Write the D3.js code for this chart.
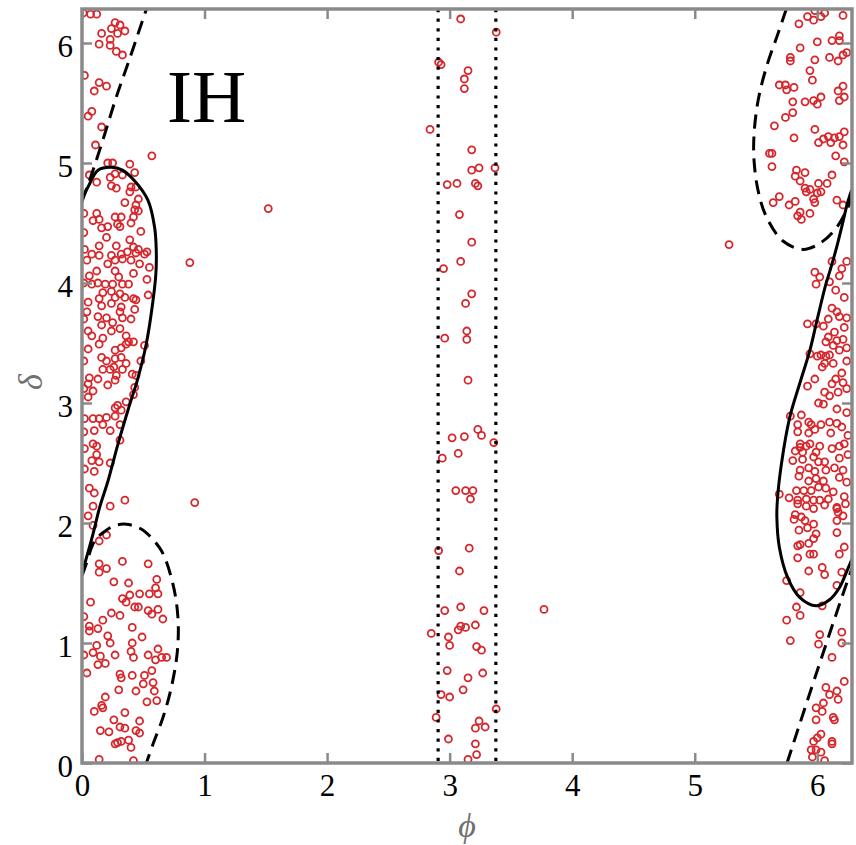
<!DOCTYPE html>
<html>
<head>
<meta charset="utf-8">
<script src="https://cdn.jsdelivr.net/npm/d3@7/dist/d3.min.js"></script>
<style>
  html, body { margin: 0; padding: 0; background: #fff; }
  svg { display: block; }
</style>
</head>
<body>
<svg id="chart" width="856" height="845"></svg>
<script>
// ---- axes ----
const TWO_PI = 2 * Math.PI;
const phiTicks = [0, 1, 2, 3, 4, 5, 6];
const deltaTicks = [0, 1, 2, 3, 4, 5, 6];
const panelLabel = "IH";

// ---- allowed-region boundaries (phi, delta) ----
const solidLeft = [[0,1.58],[0.09,1.91],[0.144,2.13],[0.212,2.35],[0.294,2.66],[0.375,2.94],[0.457,3.21],[0.524,3.49],[0.579,3.85],[0.603,4.08],[0.606,4.27],[0.593,4.46],[0.538,4.69],[0.43,4.85],[0.33,4.94],[0.239,4.965],[0.13,4.94],[0.049,4.80],[0,4.70]];
const solidRight = [[6.283,4.78],[6.25,4.68],[6.20,4.47],[6.156,4.29],[6.10,4.09],[6.07,3.99],[6.00,3.70],[5.94,3.44],[5.856,3.16],[5.775,2.88],[5.707,2.49],[5.675,2.20],[5.67,2.05],[5.69,1.80],[5.76,1.54],[5.856,1.38],[5.99,1.31],[6.10,1.36],[6.18,1.46],[6.25,1.62],[6.283,1.70]];
const dashedUpperLeft = [[0,4.68],[0.09,4.94],[0.185,5.24],[0.28,5.55],[0.389,5.87],[0.498,6.20],[0.526,6.283]];
const dashedLowerLeft = [[0,1.56],[0.035,1.66],[0.103,1.85],[0.185,1.93],[0.27,1.98],[0.361,1.99],[0.44,1.97],[0.511,1.93],[0.647,1.77],[0.742,1.49],[0.783,1.21],[0.778,0.93],[0.729,0.63],[0.661,0.38],[0.579,0.156],[0.525,0]];
const dashedUpperRight = [[5.747,6.283],[5.68,6.08],[5.585,5.80],[5.517,5.52],[5.484,5.24],[5.484,5.02],[5.517,4.77],[5.585,4.55],[5.72,4.35],[5.883,4.28],[6.02,4.33],[6.156,4.46],[6.25,4.63],[6.283,4.72]];
const dashedLowerRight = [[5.753,0],[5.99,0.74],[6.237,1.49],[6.283,1.62]];
const dottedPhi = [2.906, 3.377];

// ---- sampled points (phi, delta) ----
const pointsLeft = [
[0.07,6.24],[0.12,6.24],[0.27,6.17],[0.31,6.15],[0.24,6.12],[0.35,6.10],[0.29,6.08],[0.16,6.08],[0.23,6.03],[0.14,5.99],[0.23,5.98],[0.28,5.93],[0.33,5.90],[0.02,5.73],[0.14,5.67],[0.20,5.64],[0.10,5.60],[0.08,5.43],[0.05,5.39],[0.16,5.30],[0.11,5.15],[0.57,5.06],[0.21,5.00],[0.25,5.00],[0.39,4.99],[0.06,4.90],[0.43,4.92],[0.12,4.84],[0.23,4.88],[0.27,4.91],[0.33,4.90],[0.24,4.81],[0.28,4.79],[0.40,4.80],[0.44,4.80],[0.39,4.76],[0.46,4.70],[0.35,4.67],[0.44,4.65],[0.43,4.61],[0.46,4.60],[0.12,4.58],[0.09,4.52],[0.14,4.53],[0.27,4.55],[0.32,4.55],[0.42,4.55],[0.29,4.49],[0.31,4.47],[0.16,4.46],[0.21,4.47],[0.40,4.50],[0.48,4.43],[0.20,4.38],[0.39,4.36],[0.14,4.31],[0.28,4.31],[0.42,4.30],[0.46,4.28],[0.53,4.26],[0.02,4.28],
[0.08,4.24],[0.14,4.23],[0.24,4.23],[0.32,4.24],[0.37,4.26],[0.44,4.25],[0.51,4.24],[0.04,4.19],[0.21,4.16],[0.27,4.19],[0.33,4.20],[0.40,4.19],[0.47,4.16],[0.55,4.13],[0.12,4.10],[0.27,4.10],[0.42,4.08],[0.06,4.06],[0.30,4.05],[0.53,4.03],[0.08,3.99],[0.13,4.00],[0.19,3.99],[0.25,3.99],[0.33,3.99],[0.38,3.99],[0.17,3.92],[0.24,3.93],[0.31,3.91],[0.54,3.90],[0.05,3.84],[0.14,3.87],[0.27,3.88],[0.35,3.88],[0.42,3.87],[0.44,3.86],[0.16,3.81],[0.24,3.83],[0.32,3.80],[0.43,3.78],[0.04,3.76],[0.13,3.72],[0.31,3.76],[0.20,3.71],[0.25,3.67],[0.33,3.71],[0.40,3.70],[0.16,3.65],[0.24,3.60],[0.31,3.62],[0.05,3.60],[0.08,3.56],[0.17,3.54],[0.36,3.56],[0.14,3.49],[0.32,3.46],[0.36,3.49],[0.38,3.51],[0.42,3.51],[0.51,3.48],[0.05,3.45],[0.27,3.44],[0.16,3.38],[0.20,3.35],[0.27,3.37],[0.32,3.38],[0.48,3.35],[0.23,3.28],[0.17,3.28],[0.26,3.30],[0.33,3.28],[0.36,3.33],[0.41,3.24],[0.44,3.23],[0.06,3.21],[0.13,3.20],[0.28,3.23],[0.27,3.19],[0.21,3.15],[0.43,3.13],[0.05,3.16],[0.09,3.10],[0.42,3.07],[0.05,3.05],[0.36,3.01],[0.27,2.96],[0.29,2.98],[0.32,2.94],[0.27,2.89],[0.02,2.87],[0.09,2.87],[0.14,2.87],[0.20,2.88],[0.17,2.82],[0.31,2.82],[0.10,2.77],[0.23,2.77],[0.31,2.69],[0.09,2.66],[0.12,2.64],[0.02,2.62],[0.12,2.57],[0.08,2.52],[0.14,2.51],[0.23,2.50],[0.10,2.43],[0.06,2.29],[0.10,2.25],[0.35,2.19],[0.09,2.14],[0.23,2.14],
[0.05,2.06],[0.09,1.98],[0.14,1.85],[0.20,1.90],[0.14,1.66],[0.14,1.59],[0.20,1.62],[0.33,1.68],[0.54,1.66],[0.26,1.51],[0.38,1.50],[0.61,1.53],[0.60,1.46],[0.07,1.34],[0.33,1.37],[0.39,1.40],[0.47,1.41],[0.55,1.41],[0.62,1.41],[0.36,1.34],[0.43,1.30],[0.46,1.30],[0.24,1.25],[0.31,1.23],[0.54,1.27],[0.57,1.24],[0.62,1.28],[0.66,1.20],[0.17,1.19],[0.06,1.14],[0.13,1.12],[0.06,1.10],[0.41,1.13],[0.21,1.06],[0.49,1.05],[0.23,1.00],[0.41,1.00],[0.12,0.98],[0.09,0.92],[0.40,0.93],[0.15,0.89],[0.27,0.90],[0.54,0.90],[0.42,0.88],[0.62,0.95],[0.65,0.88],[0.69,0.88],[0.60,0.86],[0.19,0.83],[0.13,0.82],[0.04,0.75],[0.31,0.74],[0.32,0.71],[0.41,0.73],[0.51,0.73],[0.57,0.77],[0.50,0.66],[0.58,0.67],[0.59,0.60],[0.30,0.61],[0.44,0.60],[0.19,0.55],[0.53,0.51],[0.61,0.52],[0.16,0.48],[0.10,0.43],[0.17,0.46],[0.35,0.42],[0.26,0.36],[0.47,0.35],[0.31,0.30],[0.35,0.29],[0.44,0.27],[0.47,0.25],[0.15,0.27],[0.22,0.26],[0.32,0.18],[0.38,0.19],[0.27,0.16],[0.29,0.17],[0.40,0.13],[0.14,0.03],[0.42,0.02],
[0.01,6.25],[0.015,4.58],[0.015,4.42],[0.015,4.00],[0.015,3.70],[0.015,3.35],[0.015,3.12],[0.015,2.76],[0.02,2.45],[0.015,1.22],[0.015,0.90]
];
const pointsMiddle = [
[3.09,6.20],[3.38,6.09],[2.91,5.84],[2.93,5.82],[3.15,5.77],[3.12,5.70],[3.12,5.62],[2.84,5.28],[3.18,5.11],[3.24,4.96],[3.18,4.94],[3.37,4.96],[2.98,4.82],[3.06,4.83],[3.21,4.83],[3.23,4.81],[3.08,4.57],[3.18,4.34],[3.09,4.18],[2.95,4.12],[3.18,3.91],[3.13,3.83],[3.14,3.60],[2.96,3.54],[3.14,3.53],[3.15,3.19],
[3.23,2.78],[3.26,2.73],[3.02,2.71],[3.12,2.72],[3.36,2.67],[3.07,2.58],[2.94,2.54],[3.05,2.27],[3.13,2.27],[3.19,2.27],[3.17,2.20],[2.91,1.77],[3.16,1.79],[3.08,1.60],[2.96,1.27],[3.09,1.30],[3.28,1.27],[2.85,1.08],[3.07,1.11],[3.09,1.14],[3.13,1.13],[3.21,1.15],[2.99,1.05],[3.00,0.98],[3.22,0.97],[3.26,0.94],[2.98,0.77],[3.15,0.71],[3.27,0.75],[3.11,0.61],[2.93,0.57],[3.00,0.55],[2.89,0.38],[3.38,0.45],[3.24,0.35],[3.21,0.29],[3.29,0.30],[2.99,0.20],[3.21,0.16],[3.22,0.07],[3.15,0.03]
];
const pointsIsolated = [[0.88,4.17],[0.92,2.17],[1.52,4.62],[3.77,1.28],[5.28,4.32]];
const pointsRight = [
[5.98,6.27],[6.06,6.25],[6.21,6.23],[5.92,6.22],[5.97,6.19],[6.03,6.22],[5.85,6.16],[6.18,6.06],[6.12,6.02],[6.18,6.02],[5.86,5.96],[6.00,6.01],[6.24,5.92],[5.78,5.88],[5.78,5.85],[5.98,5.86],[6.10,5.88],[6.17,5.85],[6.21,5.90],[5.94,5.77],[5.96,5.69],[5.69,5.65],[5.74,5.65],[5.75,5.61],[5.81,5.63],[6.21,5.64],[6.17,5.60],[5.80,5.51],[5.90,5.51],[5.97,5.52],[6.00,5.49],[6.03,5.55],[6.18,5.52],[6.22,5.55],[5.74,5.38],[5.80,5.42],[5.65,5.31],[5.81,5.21],[5.98,5.28],[6.01,5.17],[6.05,5.20],[6.09,5.22],[6.11,5.17],[6.14,5.21],[6.18,5.22],[6.22,5.26],[6.21,5.15],[5.61,5.08],[5.63,5.08],[5.63,4.97],[6.15,5.06],[6.22,5.01],[5.83,4.94],[5.82,4.89],[5.90,4.92],[5.86,4.85],[6.12,4.90],[6.01,4.83],[6.08,4.83],[5.90,4.79],[5.91,4.76],[5.94,4.78],[6.03,4.76],[6.00,4.75],[5.97,4.70],[5.98,4.67],[5.64,4.67],[5.69,4.72],[5.77,4.65],[5.82,4.68],[6.16,4.69],[6.21,4.65],[5.86,4.59],[5.84,4.56],[5.87,4.53],[5.94,4.58],
[6.12,4.18],[6.24,4.18],[6.20,4.12],[5.98,4.09],[6.02,4.05],[6.18,4.06],[5.99,3.99],[6.10,4.01],[6.15,3.94],[6.22,3.88],[6.12,3.79],[6.09,3.70],[6.16,3.76],[6.18,3.72],[6.24,3.71],[5.92,3.66],[5.99,3.66],[6.05,3.64],[6.22,3.63],[6.14,3.59],[6.09,3.55],[6.07,3.51],[6.16,3.52],[6.21,3.53],[6.13,3.48],[6.18,3.44],[6.24,3.46],[5.94,3.41],[6.00,3.39],[6.03,3.40],[6.07,3.39],[6.10,3.40],[6.06,3.33],[6.13,3.33],[6.24,3.35],[6.04,3.30],[6.20,3.25],[5.98,3.20],[5.92,3.14],[6.15,3.20],[6.12,3.16],[6.21,3.17],[6.06,3.09],[6.10,3.06],[6.17,3.09],[6.24,3.12],[6.01,3.00],[6.05,2.99],[6.16,2.95],[6.24,2.92],[5.78,2.89],[5.87,2.90],[5.84,2.82],[5.93,2.84],[5.95,2.82],[5.98,2.78],[6.03,2.82],[6.10,2.84],[6.16,2.83],[6.20,2.80],[5.84,2.76],[5.93,2.75],[6.11,2.75],[6.25,2.73],[5.86,2.66],[5.91,2.64],[5.94,2.66],[6.02,2.64],[5.82,2.60],[5.86,2.63],[5.88,2.59],[5.99,2.59],[6.12,2.62],[6.18,2.64],[6.22,2.66],[5.80,2.52],[5.88,2.53],[5.97,2.55],[6.01,2.51],[6.06,2.51],[6.18,2.54],[6.25,2.57],[5.86,2.44],[5.93,2.46],[5.98,2.43],[6.07,2.44],[6.14,2.46],[6.21,2.44],[5.85,2.39],[5.93,2.35],[5.99,2.37],[6.05,2.35],[6.18,2.38],[6.24,2.34],[5.83,2.27],[5.89,2.27],[5.95,2.27],[6.01,2.30],[6.07,2.29],[6.13,2.26],[6.22,2.22],[5.69,2.24],[5.77,2.21],[5.84,2.19],[5.91,2.20],[5.97,2.19],[6.02,2.19],[6.09,2.20],[6.16,2.13],
[5.84,2.16],[5.91,2.14],[5.97,2.12],[6.06,2.15],[6.16,2.12],[6.23,2.16],[5.82,2.07],[5.81,2.03],[5.87,2.05],[5.90,2.02],[6.17,2.09],[6.16,2.02],[6.21,2.06],[5.85,1.94],[5.92,1.96],[5.97,1.99],[5.99,1.91],[5.97,1.87],[6.16,1.92],[5.84,1.81],[5.86,1.82],[5.93,1.83],[5.94,1.74],[5.97,1.74],[5.84,1.71],[6.18,1.74],[6.22,1.80],[5.93,1.60],[6.04,1.63],[6.06,1.57],[6.20,1.59],[6.16,1.48],[5.75,1.52],[5.86,1.42],[6.04,1.31],[5.83,1.30],[5.86,1.23],[5.75,1.19],[5.78,1.02],[6.02,1.07],[6.01,0.99],[6.20,1.09],[6.20,1.00],[6.12,0.88],[6.22,0.68],[6.07,0.63],[6.10,0.57],[6.16,0.60],[6.17,0.53],[6.05,0.50],[5.99,0.46],[6.04,0.43],[6.13,0.38],[5.99,0.36],[6.14,0.36],[5.97,0.18],[6.03,0.24],[6.00,0.21],[6.12,0.16],[6.12,0.18],[5.95,0.11],[5.99,0.11],[6.03,0.09],[5.96,0.05],[6.06,0.02]
];

// ---- layout ----
const svg = d3.select("#chart");
const plot = { left: 82, right: 852, top: 9, bottom: 763 };
const x = d3.scaleLinear().domain([0, TWO_PI]).range([plot.left, plot.right]);
const y = d3.scaleLinear().domain([0, TWO_PI]).range([plot.bottom, plot.top]);

const frameColor = "#8a8a8a";
const serif = "'Liberation Serif', 'DejaVu Serif', serif";

svg.append("defs").append("clipPath").attr("id", "plot-clip")
  .append("rect")
  .attr("x", plot.left).attr("y", plot.top)
  .attr("width", plot.right - plot.left).attr("height", plot.bottom - plot.top);

const inner = svg.append("g").attr("clip-path", "url(#plot-clip)");

// sampled points: open red circles
const allPoints = pointsLeft.concat(pointsMiddle, pointsIsolated, pointsRight);
inner.append("g").selectAll("circle").data(allPoints).join("circle")
  .attr("cx", d => x(d[0]))
  .attr("cy", d => y(d[1]))
  .attr("r", 3.5)
  .attr("fill", "none")
  .attr("stroke", "#d7262b")
  .attr("stroke-width", 1.8);

// boundaries
const line = d3.line().x(d => x(d[0])).y(d => y(d[1])).curve(d3.curveCatmullRom.alpha(0.5));

[solidLeft, solidRight].forEach(seg => {
  inner.append("path").attr("d", line(seg))
    .attr("fill", "none").attr("stroke", "#000").attr("stroke-width", 3);
});
[dashedUpperLeft, dashedLowerLeft, dashedUpperRight, dashedLowerRight].forEach(seg => {
  inner.append("path").attr("d", line(seg))
    .attr("fill", "none").attr("stroke", "#000").attr("stroke-width", 3)
    .attr("stroke-dasharray", "14,8");
});
inner.append("g").selectAll("line").data(dottedPhi).join("line")
  .attr("x1", d => x(d)).attr("x2", d => x(d))
  .attr("y1", y(TWO_PI)).attr("y2", y(0))
  .attr("stroke", "#000").attr("stroke-width", 3.2)
  .attr("stroke-dasharray", "3.2,6.4");

// axes with inward ticks on all four sides
function styleAxis(g) {
  g.attr("font-family", serif).attr("font-size", 31);
  g.select(".domain").remove();
  g.selectAll(".tick line").attr("stroke", frameColor).attr("stroke-width", 2.5);
  g.selectAll(".tick text").attr("fill", "#000")
    .attr("font-family", serif)
    .style("font-family", serif).style("font-size", "31px");
}

svg.append("g").attr("transform", `translate(0,${plot.bottom})`)
  .call(d3.axisBottom(x).tickValues(phiTicks).tickFormat(d3.format("d"))
    .tickSizeInner(-10).tickSizeOuter(0).tickPadding(11))
  .call(styleAxis)
  .call(g => g.selectAll(".tick text").attr("dy", "0.71em"));

svg.append("g").attr("transform", `translate(0,${plot.top})`)
  .call(d3.axisTop(x).tickValues(phiTicks).tickFormat("")
    .tickSizeInner(-10).tickSizeOuter(0))
  .call(styleAxis);

svg.append("g").attr("transform", `translate(${plot.left},0)`)
  .call(d3.axisLeft(y).tickValues(deltaTicks).tickFormat(d3.format("d"))
    .tickSizeInner(-10).tickSizeOuter(0).tickPadding(9))
  .call(styleAxis)
  .call(g => g.selectAll(".tick text").attr("dy", "0.42em"));

svg.append("g").attr("transform", `translate(${plot.right},0)`)
  .call(d3.axisRight(y).tickValues(deltaTicks).tickFormat("")
    .tickSizeInner(-10).tickSizeOuter(0))
  .call(styleAxis);

// frame
svg.append("rect")
  .attr("x", plot.left).attr("y", plot.top)
  .attr("width", plot.right - plot.left).attr("height", plot.bottom - plot.top)
  .attr("fill", "none").attr("stroke", frameColor).attr("stroke-width", 3.5);

// axis titles
svg.append("text")
  .attr("x", (plot.left + plot.right) / 2).attr("y", 837)
  .attr("text-anchor", "middle")
  .attr("fill", "#707070")
  .style("font-family", serif).style("font-style", "italic").style("font-size", "34px")
  .text("ϕ");

svg.append("text")
  .attr("transform", "translate(42,382) rotate(-90)")
  .attr("text-anchor", "middle")
  .attr("fill", "#707070")
  .style("font-family", serif).style("font-style", "italic").style("font-size", "34px")
  .text("δ");

// panel label
svg.append("text")
  .attr("x", 167).attr("y", 122)
  .attr("fill", "#000")
  .style("font-family", serif).style("font-size", "75px")
  .text(panelLabel);
</script>
</body>
</html>
